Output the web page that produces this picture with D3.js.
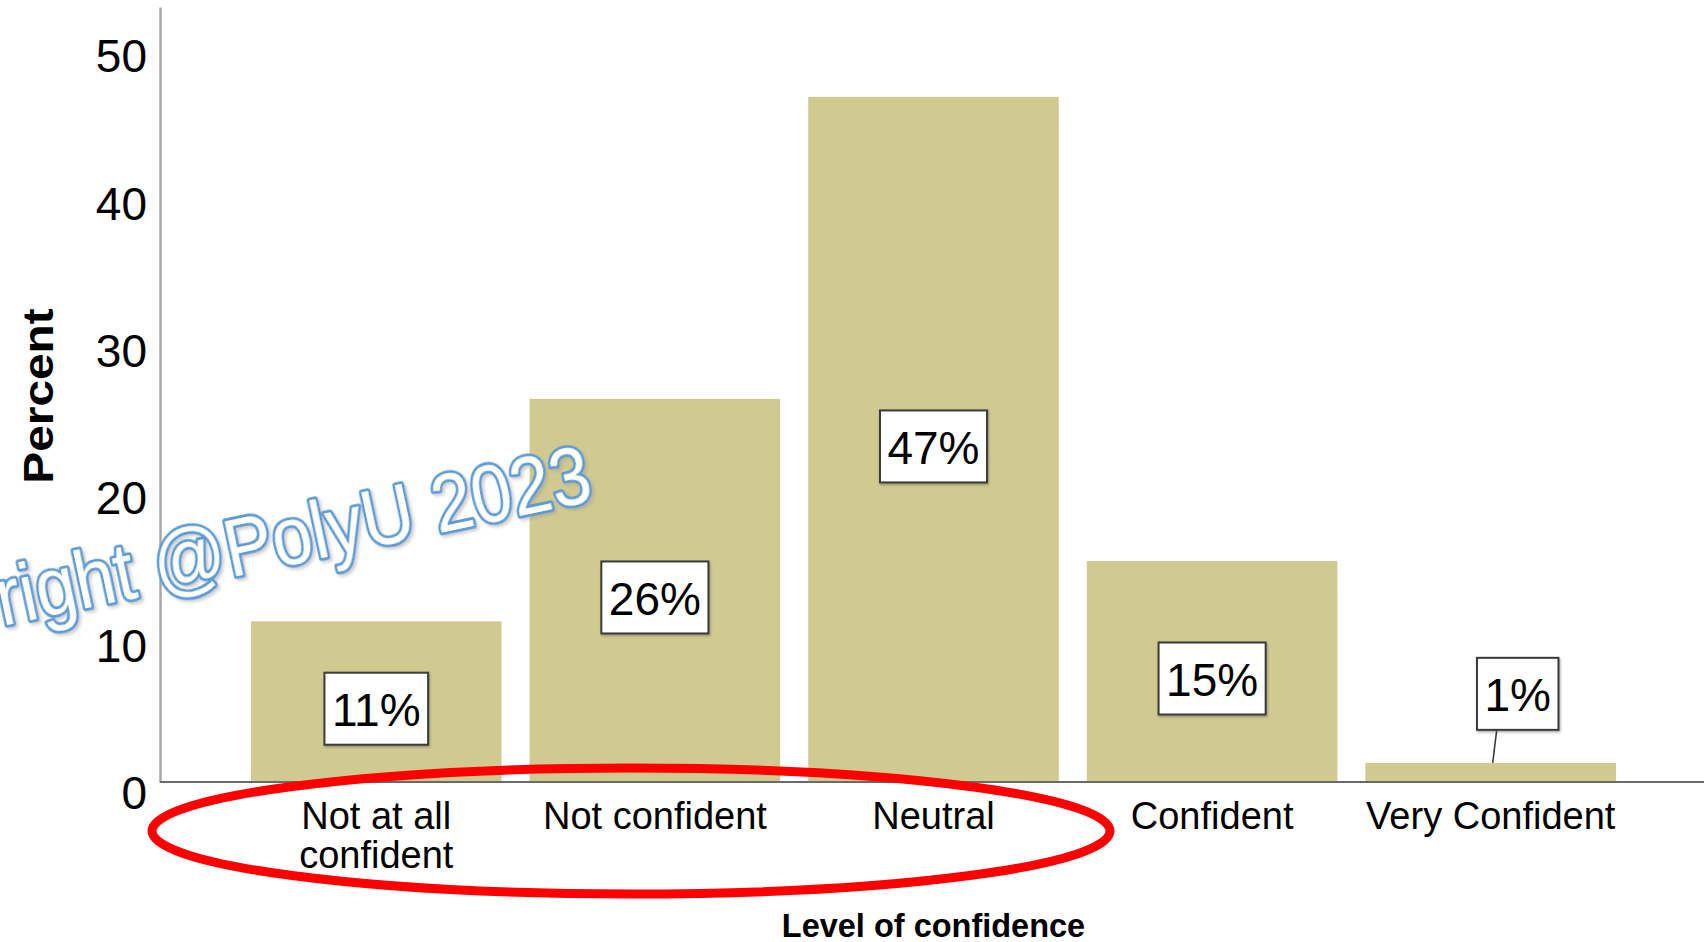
<!DOCTYPE html>
<html>
<head>
<meta charset="utf-8">
<script src="https://cdn.jsdelivr.net/npm/d3@7"></script>
<style>
  html, body { margin: 0; padding: 0; background: #fff; overflow: hidden; }
  svg { display: block; }
  text { font-family: "Liberation Sans", Arial, sans-serif; }
</style>
</head>
<body>
<svg id="chart" width="1704" height="942"></svg>
<script>
// ---- data ----
const categories = ["Not at all\nconfident", "Not confident", "Neutral", "Confident", "Very Confident"];
const percents = [10.9, 26.0, 46.5, 15.0, 1.3];
const valueLabels = ["11%", "26%", "47%", "15%", "1%"];
const yTicks = [0, 10, 20, 30, 40, 50];
const yTitle = "Percent";
const xTitle = "Level of confidence";
const watermark = "Copyright @PolyU 2023";

// ---- layout ----
const W = 1704, H = 942;
const axisX = 160;
const svg = d3.select("#chart");

const defs = svg.append("defs");
const sh = defs.append("filter").attr("id", "wmShadow").attr("x", "-10%").attr("y", "-30%").attr("width", "130%").attr("height", "160%");
sh.append("feDropShadow").attr("dx", 2).attr("dy", 2.5).attr("stdDeviation", 1.5)
  .attr("flood-color", "#999").attr("flood-opacity", 0.45);
const bsh = defs.append("filter").attr("id", "boxShadow").attr("x", "-10%").attr("y", "-10%").attr("width", "130%").attr("height", "130%");
bsh.append("feDropShadow").attr("dx", 1).attr("dy", 1.5).attr("stdDeviation", 1)
  .attr("flood-color", "#555").attr("flood-opacity", 0.5);

const y = d3.scaleLinear().domain([0, 52.6]).range([782, 7]);
const x = d3.scaleBand().domain(categories).range([251, 1616]).paddingInner(0.1007).paddingOuter(0);

// bars
svg.append("g").selectAll("rect").data(percents).join("rect")
  .attr("x", (d, i) => x(categories[i]))
  .attr("y", d => y(d))
  .attr("width", x.bandwidth())
  .attr("height", d => y(0) - y(d))
  .attr("fill", "#d0ca90");

// y axis
const yAxis = svg.append("g").attr("transform", `translate(${axisX},0)`)
  .call(d3.axisLeft(y).tickValues(yTicks).tickSize(0).tickSizeOuter(0).tickPadding(13));
yAxis.select(".domain").attr("stroke", "#a8a8a8").attr("stroke-width", 2.5);
yAxis.selectAll(".tick text")
  .attr("font-size", 46).attr("fill", "#000")
  .attr("font-family", "Liberation Sans, Arial, sans-serif")
  .attr("dy", null).attr("y", 26.5);

// baseline
svg.append("line")
  .attr("x1", axisX).attr("x2", W)
  .attr("y1", y(0)).attr("y2", y(0))
  .attr("stroke", "#6a6a6a").attr("stroke-width", 2);

// x axis labels
const xAxis = svg.append("g").attr("transform", `translate(0,${y(0)})`)
  .call(d3.axisBottom(x).tickSize(0).tickSizeOuter(0));
xAxis.select(".domain").remove();
xAxis.selectAll(".tick text").each(function(d) {
  const t = d3.select(this);
  t.text(null).attr("y", 0).attr("dy", null)
    .attr("font-size", 38).attr("fill", "#000")
    .attr("font-family", "Liberation Sans, Arial, sans-serif");
  d.split("\n").forEach((line, k) => {
    t.append("tspan").attr("x", 0).attr("y", 47 + k * 39).text(line);
  });
});

// value labels
const lab = svg.append("g");
percents.forEach((v, i) => {
  const cx = x(categories[i]) + x.bandwidth() / 2;
  const top = y(v), bottom = y(0);
  const g = lab.append("g");
  const rect = g.append("rect");
  const txt = g.append("text").attr("font-size", 46).attr("text-anchor", "middle")
    .style("fill", "#000").text(valueLabels[i]);
  const tw = txt.node().getComputedTextLength();
  const bw = tw + 15, bh = 72;
  let bx, by;
  if (bottom - top > bh + 20) {
    bx = cx; by = (top + bottom) / 2 + 7;
  } else {
    bx = cx + 27; by = top - 33 - bh / 2;
    g.insert("line", "rect")
      .attr("x1", cx + 2).attr("y1", top)
      .attr("x2", cx + 6).attr("y2", by + bh / 2)
      .attr("stroke", "#333").attr("stroke-width", 1.5);
  }
  rect.attr("x", bx - bw / 2).attr("y", by - bh / 2).attr("width", bw).attr("height", bh)
    .attr("fill", "#fff").attr("stroke", "#3a3a3a").attr("stroke-width", 2)
    .attr("filter", "url(#boxShadow)");
  txt.attr("x", bx).attr("y", by + 17.5);
});

// axis titles
svg.append("text")
  .attr("transform", `translate(53,396) rotate(-90) scale(1.14,1)`)
  .attr("text-anchor", "middle").attr("font-weight", "bold").attr("font-size", 42)
  .style("fill", "#000")
  .text(yTitle);
svg.append("text")
  .attr("x", x(categories[2]) + x.bandwidth() / 2).attr("y", 937)
  .attr("text-anchor", "middle").attr("font-weight", "bold").attr("font-size", 32.5)
  .style("fill", "#000")
  .text(xTitle);

// red ellipse annotation
svg.append("ellipse")
  .attr("cx", 631).attr("cy", 831).attr("rx", 479).attr("ry", 63)
  .attr("fill", "none").attr("stroke", "#ff0000").attr("stroke-width", 9);

// watermark
const wm = svg.append("text")
  .attr("font-family", "Lato, 'Open Sans', sans-serif")
  .attr("font-size", 80)
  .attr("text-anchor", "end")
  .style("fill", "#ffffff").style("stroke", "#5b9bd5").style("stroke-width", 5)
  .style("paint-order", "stroke fill").style("stroke-linejoin", "round")
  .attr("filter", "url(#wmShadow)")
  .attr("transform", "translate(595,500) rotate(-12) scale(1,1.12)")
  .text(watermark);
const n = wm.node();
const sub = n.getSubStringLength(4, watermark.length - 4);
wm.attr("font-size", 80 * 606 / sub);
</script>
</body>
</html>
